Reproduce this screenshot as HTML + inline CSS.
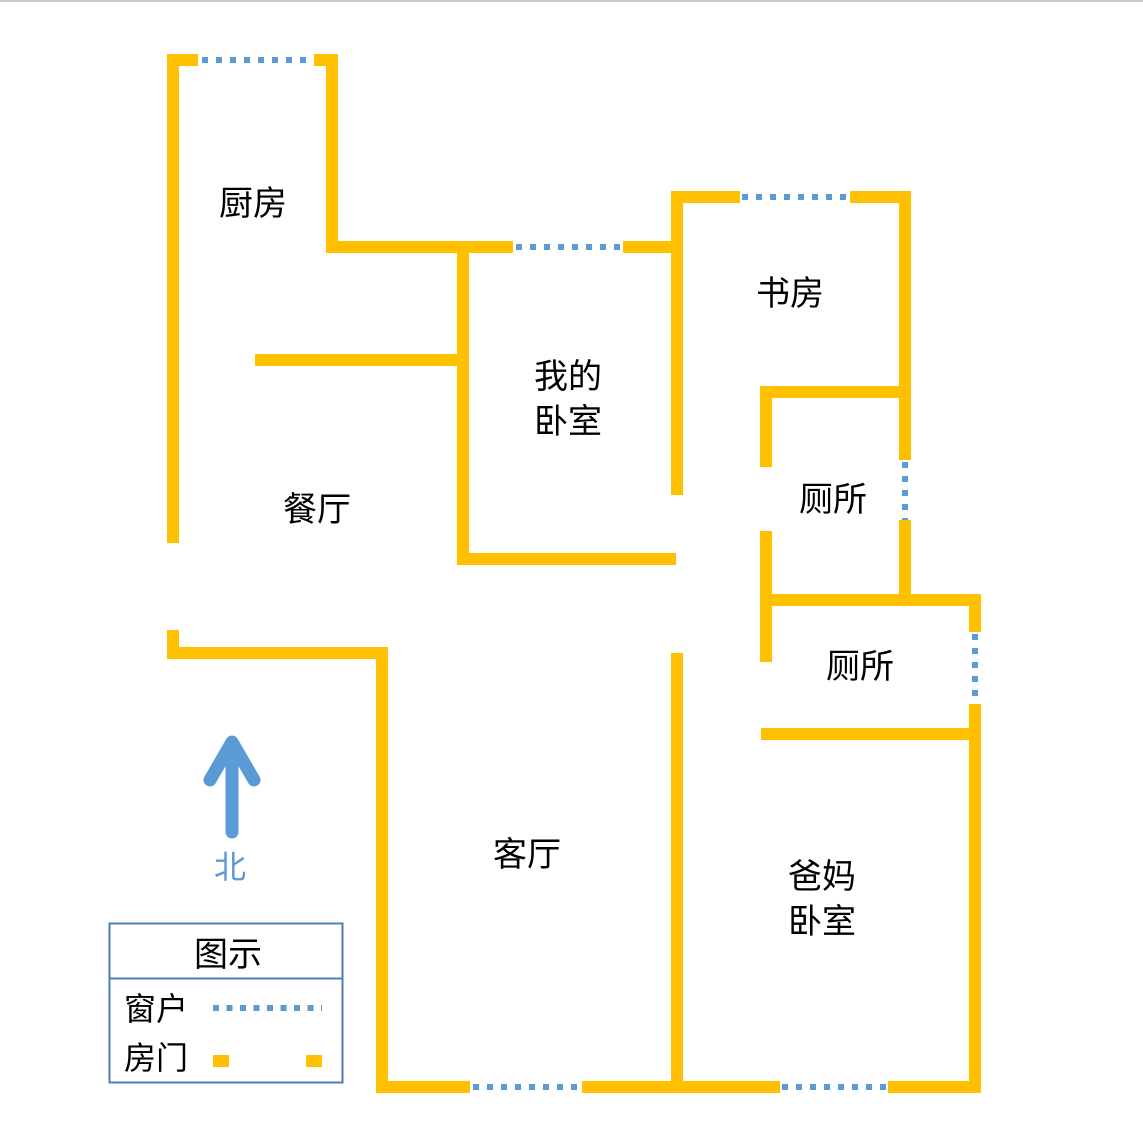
<!DOCTYPE html>
<html><head><meta charset="utf-8"><style>
html,body{margin:0;padding:0;background:#fff;}
svg{display:block;}
text{font-family:"Liberation Sans","Noto Sans CJK SC",sans-serif;}
</style></head><body>
<svg width="1143" height="1143" viewBox="0 0 1143 1143" xmlns="http://www.w3.org/2000/svg">
<rect x="0" y="0" width="1143" height="2" fill="#c8c8c8"/>
<g stroke="#FFC000" stroke-width="12" fill="none" stroke-linecap="square" stroke-linejoin="miter">
<!-- kitchen -->
<polyline points="173,543 173,60 198,60" stroke-linecap="butt"/>
<polyline points="314,60 332,60 332,247 513,247" stroke-linecap="butt"/>
<line x1="623" y1="247" x2="677" y2="247" stroke-linecap="butt"/>
<line x1="463" y1="247" x2="463" y2="559"/>
<line x1="255" y1="360" x2="463" y2="360" stroke-linecap="butt"/>
<line x1="463" y1="559" x2="676" y2="559" stroke-linecap="butt"/>
<!-- study -->
<polyline points="677,495 677,197 740,197" stroke-linecap="butt"/>
<polyline points="850,197 905,197 905,460" stroke-linecap="butt"/>
<line x1="905" y1="520" x2="905" y2="600" stroke-linecap="butt"/>
<!-- toilet 1 -->
<polyline points="766,467 766,392 905,392" stroke-linecap="butt"/>
<line x1="766" y1="531" x2="766" y2="662" stroke-linecap="butt"/>
<polyline points="766,600 975,600 975,632" stroke-linecap="butt"/>
<!-- toilet 2 / parents -->
<line x1="761" y1="734" x2="975" y2="734" stroke-linecap="butt"/>
<polyline points="975,704 975,1087 888,1087" stroke-linecap="butt"/>
<line x1="677" y1="653" x2="677" y2="1087" stroke-linecap="butt"/>
<line x1="582" y1="1087" x2="780" y2="1087" stroke-linecap="butt"/>
<!-- living -->
<polyline points="173,630 173,653 382,653 382,1087 470,1087" stroke-linecap="butt"/>
</g>
<g stroke="#5B9BD5" stroke-width="6" stroke-dasharray="6 8" fill="none">
<line x1="202" y1="60" x2="312" y2="60"/>
<line x1="516" y1="247" x2="623" y2="247"/>
<line x1="742" y1="197" x2="850" y2="197"/>
<line x1="905" y1="462" x2="905" y2="520"/>
<line x1="975" y1="634" x2="975" y2="704"/>
<line x1="473" y1="1087" x2="582" y2="1087"/>
<line x1="782" y1="1087" x2="888" y2="1087"/>
</g>
<!-- arrow -->
<g stroke="#5B9BD5" stroke-width="13" fill="none" stroke-linecap="round" stroke-linejoin="round">
<line x1="232" y1="832" x2="232" y2="745"/>
<polyline points="210,780 232,742 254,780"/>
</g>
<text x="230" y="878" font-size="32" fill="#5B9BD5" text-anchor="middle">北</text>
<g font-size="34" fill="#000" text-anchor="middle">
<text x="253" y="215">厨房</text>
<text x="790" y="305">书房</text>
<text x="568" y="388">我的</text>
<text x="568" y="433">卧室</text>
<text x="833" y="511">厕所</text>
<text x="860" y="678">厕所</text>
<text x="317" y="521">餐厅</text>
<text x="527" y="866">客厅</text>
<text x="822" y="888">爸妈</text>
<text x="822" y="933">卧室</text>
</g>
<!-- legend -->
<rect x="109.5" y="923.5" width="233" height="159" fill="none" stroke="#4F7FB0" stroke-width="2"/>
<line x1="109" y1="978.5" x2="343" y2="978.5" stroke="#4F7FB0" stroke-width="2"/>
<text x="228" y="966" font-size="34" text-anchor="middle">图示</text>
<text x="124" y="1020" font-size="32">窗户</text>
<text x="124" y="1069" font-size="32">房门</text>
<line x1="213" y1="1008" x2="322" y2="1008" stroke="#5B9BD5" stroke-width="6" stroke-dasharray="6 7.5"/>
<rect x="213" y="1055" width="16" height="12" fill="#FFC000"/>
<rect x="306" y="1055" width="16" height="12" fill="#FFC000"/>
</svg>
</body></html>
